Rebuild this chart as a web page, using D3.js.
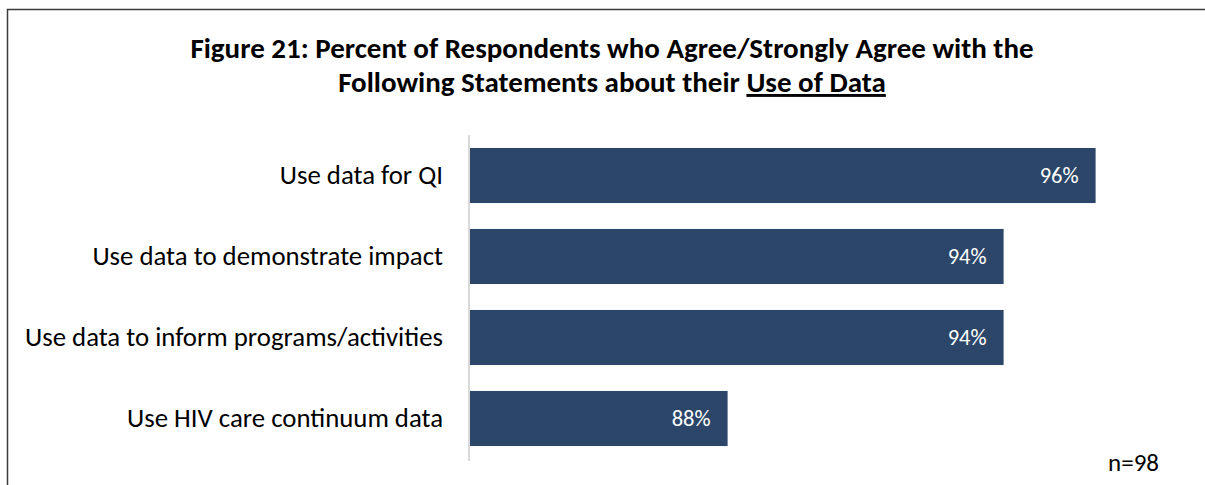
<!DOCTYPE html>
<html>
<head>
<meta charset="utf-8">
<script src="https://cdn.jsdelivr.net/npm/d3@7"></script>
<style>
  html, body { margin: 0; padding: 0; background: #fff; }
  svg { display: block; font-family: Carlito, Lato, sans-serif; }
</style>
</head>
<body>
<svg id="chart" width="1205" height="485"></svg>
<script>
// Survey results: share of respondents agreeing with each statement
const categories = [
  "Use data for QI",
  "Use data to demonstrate impact",
  "Use data to inform programs/activities",
  "Use HIV care continuum data"
];
const values = [96, 94, 94, 88];
const valueLabels = ["96%", "94%", "94%", "88%"];
const sampleNote = "n=98";

const svg = d3.select("#chart");
const barColor = "#2b4669";

// Outer frame
svg.append("rect")
  .attr("x", 7.5).attr("y", 9.5)
  .attr("width", 1400).attr("height", 700)
  .attr("fill", "none")
  .attr("stroke", "#3a3a3a")
  .attr("stroke-width", 1.5);

// Title (two centred lines, last phrase underlined)
const title = svg.append("text")
  .attr("text-anchor", "middle")
  .attr("font-weight", "bold")
  .attr("font-size", 29)
  .attr("fill", "#000");
title.append("tspan")
  .attr("x", 612).attr("y", 58)
  .text("Figure 21: Percent of Respondents who Agree/Strongly Agree with the");
const line2 = title.append("tspan").attr("x", 612).attr("y", 92);
line2.append("tspan").text("Following Statements about their ");
line2.append("tspan").attr("text-decoration", "underline").text("Use of Data");

// Scales
const x = d3.scaleLinear().domain([82.4, 98]).range([470, 1187.6]);
const y = d3.scaleBand()
  .domain(categories)
  .range([135, 459])
  .paddingInner(0.32)
  .paddingOuter(0.16);

// Bars
svg.append("g").selectAll("rect")
  .data(values)
  .join("rect")
  .attr("x", x(82.4))
  .attr("y", (d, i) => y(categories[i]))
  .attr("width", d => x(d) - x(82.4))
  .attr("height", y.bandwidth())
  .attr("fill", barColor);

// Value labels inside bar ends
svg.append("g").selectAll("text")
  .data(values)
  .join("text")
  .attr("x", d => x(d) - 17)
  .attr("y", (d, i) => y(categories[i]) + y.bandwidth() / 2 + 7.5)
  .attr("text-anchor", "end")
  .attr("font-size", 22.5)
  .attr("fill", "#fff")
  .text((d, i) => valueLabels[i]);

// Category axis
const axis = svg.append("g")
  .attr("transform", `translate(${x(82.4) - 1},0)`)
  .call(d3.axisLeft(y).tickSize(0).tickPadding(26));
axis.select(".domain")
  .attr("d", "M0,135V461")
  .attr("stroke", "#d9d9d9")
  .attr("stroke-width", 2);
axis.selectAll(".tick text")
  .attr("font-family", "Carlito, Lato, sans-serif")
  .attr("font-size", 26.8)
  .attr("fill", "#000")
  .attr("dy", "0.3em");

// Sample size note
svg.append("text")
  .attr("x", 1159).attr("y", 471)
  .attr("text-anchor", "end")
  .attr("font-size", 25)
  .attr("fill", "#000")
  .text(sampleNote);
</script>
</body>
</html>
